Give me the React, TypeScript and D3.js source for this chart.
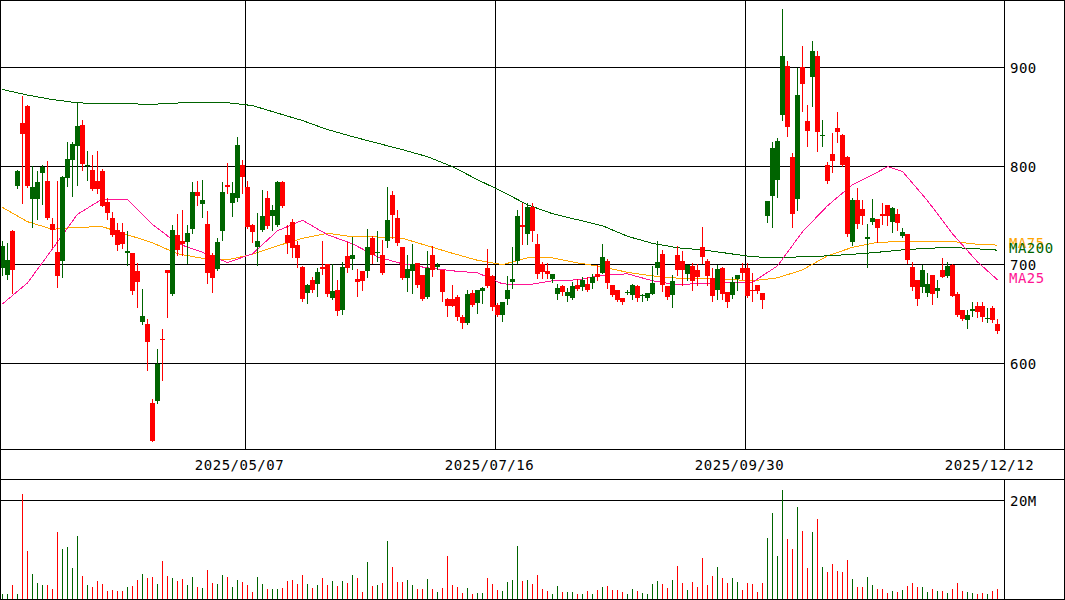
import React from 'react';
import * as d3 from 'd3';

const opens = [697,690,734,780,844,861,767,767,793,785,741,713,704,788,806,820,842,800,796,785,795,764,747,735,733,712,712,694,642,640,560,562,625,695,670,730,724,723,736,774,762,741,710,696,734,781,763,768,801,779,740,718,735,768,750,740,784,730,743,720,698,671,685,681,698,701,666,674,654,709,706,686,694,694,727,712,710,724,771,747,718,687,694,702,690,667,710,698,695,665,665,667,647,641,671,661,673,697,689,659,649,665,683,704,740,731,759,721,701,694,686,670,679,668,666,680,678,681,682,691,692,704,680,674,666,671,669,679,668,666,670,697,711,679,669,710,704,691,699,695,718,704,687,674,697,672,669,686,697,697,675,680,671,750,770,786,852,902,809,767,901,846,890,912,831,801,812,839,832,809,723,766,757,726,743,746,752,761,743,752,729,731,698,685,678,671,690,673,695,689,700,670,654,644,653,658,658,645,656,640];
const highs = [724,722,735,796,871,862,800,795,801,805,747,785,790,825,825,864,847,815,811,815,797,768,754,742,742,734,712,702,676,645,564,615,635,695,740,752,756,740,784,785,786,755,712,727,784,803,784,830,806,785,741,753,776,775,761,785,785,740,746,724,699,681,688,697,724,701,701,685,703,723,728,696,694,736,729,734,725,779,775,756,718,710,721,702,690,714,719,702,695,666,680,669,649,674,674,674,678,716,690,661,662,689,718,756,763,763,763,731,703,702,691,681,680,677,683,686,688,688,691,700,721,706,680,675,666,675,681,680,670,671,699,724,715,679,690,719,714,700,702,701,738,706,697,700,698,672,688,690,702,702,692,680,671,765,825,829,959,907,813,900,922,862,927,917,847,804,834,855,833,810,768,778,766,741,767,746,763,761,759,757,737,731,703,685,700,692,690,685,707,703,701,672,654,654,662,662,662,656,658,645];
const lows = [690,686,671,778,763,779,738,746,762,746,718,678,688,780,770,781,796,786,776,773,760,746,729,715,717,700,670,657,640,593,521,560,583,647,669,710,710,702,732,761,748,682,672,695,725,773,749,765,773,737,723,700,734,737,735,739,759,712,708,698,663,661,672,668,691,668,665,649,650,693,696,668,675,688,702,704,691,718,727,720,686,673,671,678,664,666,689,696,663,648,658,644,636,640,658,651,661,678,654,648,643,660,677,702,721,721,724,687,687,687,683,665,669,663,665,675,674,673,677,685,692,677,668,663,660,670,665,663,663,664,670,691,673,665,657,690,680,685,675,680,702,680,663,665,665,657,666,675,686,667,663,671,656,743,738,769,847,831,738,756,856,820,861,815,820,783,794,824,800,729,720,737,741,698,741,723,741,740,733,735,728,702,674,659,672,668,660,667,688,688,668,648,644,636,648,647,643,642,642,631];
const closes = [719,705,695,795,833,780,779,784,799,747,735,689,789,807,822,841,802,801,777,777,760,753,730,720,721,714,673,683,648,622,521,599,624,692,735,715,721,732,774,770,766,692,687,723,774,779,773,821,789,738,733,724,749,739,756,784,760,722,717,707,665,680,675,693,696,670,673,653,698,697,710,683,684,718,710,713,692,745,751,722,687,696,701,680,665,697,695,700,672,658,658,647,641,670,659,674,677,679,657,649,662,674,686,750,738,759,734,691,693,691,691,677,672,672,679,676,685,674,688,688,708,682,669,664,662,672,680,666,669,671,682,703,680,667,684,695,695,700,684,688,708,689,668,696,670,662,683,690,692,668,673,673,664,765,818,826,912,840,752,872,883,836,917,835,832,785,805,835,801,731,766,741,750,728,747,737,750,750,758,742,733,705,678,665,695,681,670,677,688,699,668,649,645,649,655,652,647,646,644,633];
const volumes = [1.14,1.14,2.94,1.14,21.3,9.77,5.15,3.34,2.94,2.94,2.14,13.6,10.2,10.6,6.35,12.8,4.75,2.94,2.54,3.75,3.14,1.74,1.94,1.74,1.74,2.54,2.74,3.95,5.15,4.35,4.55,3.14,7.76,4.75,4.35,3.75,4.15,2.94,4.55,2.54,2.34,5.95,3.34,3.14,4.95,4.55,2.54,3.95,3.55,2.94,1.54,4.55,3.14,2.14,2.14,2.14,2.34,3.75,3.95,3.14,4.95,3.14,2.34,2.94,4.35,2.94,3.75,2.74,3.75,3.34,4.95,4.35,1.54,7.56,2.74,2.94,3.34,11.8,6.56,3.55,3.55,3.95,2.94,2.14,2.14,4.15,2.14,1.54,2.34,8.76,2.94,2.54,1.34,2.34,1.14,1.34,1.34,4.35,3.14,1.94,1.74,3.55,3.95,10.8,3.75,3.95,3.14,4.95,2.14,1.74,1.14,2.74,1.54,1.54,1.54,1.14,1.14,1.74,1.14,1.94,2.54,2.74,1.94,1.94,1.54,1.14,2.14,1.74,1.34,1.14,3.14,3.75,3.14,2.34,3.95,6.76,3.34,1.94,3.55,2.54,8.36,2.94,4.75,6.56,4.35,3.34,4.35,3.55,1.94,3.34,3.14,1.54,3.34,12.4,17.4,8.76,22.2,12.2,10.2,18.6,13.8,6.35,13.6,16.2,6.56,5.55,7.16,5.75,5.55,7.96,4.15,2.54,2.54,4.55,2.94,2.14,2.14,1.34,1.74,1.54,1.94,2.74,3.34,2.54,2.54,1.54,2.14,1.74,1.74,1.34,2.14,3.34,1.74,1.54,1.34,1.14,1.34,1.14,1.74,2.14];

const maIdx = [0,5,10,15,20,25,30,35,40,45,50,55,60,65,70,75,80,85,90,95,100,105,110,115,120,125,130,135,140,145,150,155,160,165,170,175,180,185,190,195,199];
const ma200 = [877.7,872.1,867.5,864.2,863.4,863.2,862.7,864,864.8,864.3,861.4,853.8,846.2,837.1,829.9,823.3,816.7,809.6,799.5,786.3,774.1,760.9,751.8,745.7,739.6,728.9,721.8,717.3,715.2,711.7,708.1,707.4,708.1,709.1,710.7,712.7,715.2,716.8,717.6,716.2,714.9];
const ma75 = [758.2,743.7,736,738.1,738.6,730.5,722.3,711.2,706.6,705.1,710.7,719.3,726.9,732,728.4,728.2,726.9,719.3,711.7,704.6,700.2,707.1,707.1,702,698,692.4,688.8,686.5,686.5,685.3,683.8,686.8,694.9,709.1,717.8,722.8,723.6,723.3,723.6,720.8,720];
const ma25Idx = [0,5,10,15,20,25,30,35,40,45,50,55,60,65,70,75,80,85,90,95,100,105,110,115,120,125,130,135,140,145,150,155,160,165,170,175,177,180,185,190,195,199];
const ma25 = [660.4,681.7,716.2,751.3,766.7,766.5,741,721.6,712.7,702.3,711.2,734.5,745.2,730.5,721.3,708.1,701,697,693.9,691.9,680.7,679.7,683.8,684.8,689.3,690.9,683.8,679.7,681.4,681.7,682.2,699,733.5,759.9,781.2,793.9,799.5,794.6,765,731.5,703,684.8];

const priceTicks = [600, 700, 800, 900];
const volTicks = [20];
const volTickLabels = ['20M'];
const dateIdx = [49, 99, 149, 199];
const dateLabels = ['2025/05/07', '2025/07/16', '2025/09/30', '2025/12/12'];
const maNames = ['MA75', 'MA200', 'MA25'];

const RED = '#ff0000';
const GREEN = '#006400';
const C200 = '#006400';
const C75 = '#ffa500';
const C25 = '#ff1493';
const FONT = '"DejaVu Sans Mono", monospace';

export default function App() {
  const W = 1065, H = 600;
  const axisX = 1004;
  const yP = d3.scaleLinear().domain([600, 900]).range([363.5, 67.5]);
  const yV = d3.scaleLinear().domain([0, 20]).range([599.5, 500.5]);
  const xL = d3.scaleLinear().domain([0, 200]).range([0, 1000]);
  const xC = (i: number) => xL(i) + 2.5;
  const crisp = (y: number) => Math.round(y - 0.5) + 0.5;

  const mkLine = (idx: number[], vals: number[]) =>
    d3.line<number>().x((_, k) => xC(idx[k])).y((v) => yP(v))(vals) || '';

  const maDefs = [
    { name: maNames[0], idx: maIdx, vals: ma75, color: C75 },
    { name: maNames[1], idx: maIdx, vals: ma200, color: C200 },
    { name: maNames[2], idx: ma25Idx, vals: ma25, color: C25 },
  ];

  return (
    <svg width={W} height={H} style={{ position: 'absolute', left: 0, top: 0, background: '#fff' }}>
      <rect x={0} y={0} width={W} height={H} fill="#fff" />
      <g shapeRendering="crispEdges" stroke="#000" strokeWidth={1}>
        {priceTicks.map((t) => (
          <line key={'pg' + t} x1={0} x2={axisX} y1={crisp(yP(t))} y2={crisp(yP(t))} />
        ))}
        {dateIdx.slice(0, 3).map((d) => (
          <line key={'dg' + d} x1={xL(d) + 0.5} x2={xL(d) + 0.5} y1={0} y2={449} />
        ))}
        {volTicks.map((t) => (
          <line key={'vg' + t} x1={0} x2={axisX} y1={crisp(yV(t))} y2={crisp(yV(t))} />
        ))}
      </g>
      <g fill="none" strokeWidth={1} shapeRendering="crispEdges">
        {maDefs.map((m) => (
          <path key={m.name} d={mkLine(m.idx, m.vals)} stroke={m.color} />
        ))}
      </g>
      <g shapeRendering="crispEdges">
        {opens.map((o, i) => {
          const c = closes[i];
          const up = c >= o;
          const col = up ? GREEN : RED;
          const hy = Math.round(yP(highs[i]));
          const ly = Math.round(yP(lows[i]));
          const ty = Math.round(yP(Math.max(o, c)));
          const by = Math.round(yP(Math.min(o, c)));
          return (
            <g key={'c' + i} fill={col}>
              <rect x={xL(i) + 2} width={1} y={hy} height={Math.max(1, ly - hy + 1)} />
              <rect x={xL(i)} width={5} y={ty} height={Math.max(1, by - ty)} />
            </g>
          );
        })}
        {volumes.map((v, i) => {
          const up = closes[i] >= opens[i];
          const top = Math.round(yV(v));
          return (
            <rect key={'v' + i} x={xL(i) + 2} width={1} y={top} height={599 - top} fill={up ? GREEN : RED} />
          );
        })}
      </g>
      <g shapeRendering="crispEdges" stroke="#000" strokeWidth={1} fill="none">
        <rect x={0.5} y={0.5} width={W - 1} height={H - 1} />
        <line x1={0} x2={W} y1={449.5} y2={449.5} />
        <line x1={0} x2={W} y1={479.5} y2={479.5} />
        <line x1={axisX + 0.5} x2={axisX + 0.5} y1={0} y2={449.5} />
        <line x1={axisX + 0.5} x2={axisX + 0.5} y1={479.5} y2={H} />
      </g>
      <g fontFamily={FONT} fontSize={14} letterSpacing={0.5}>
        {priceTicks.map((t) => (
          <text key={'pt' + t} x={1010} y={crisp(yP(t)) + 5} fill="#000">{t}</text>
        ))}
        {volTicks.map((t, k) => (
          <text key={'vt' + t} x={1010} y={crisp(yV(t)) + 5} fill="#000">{volTickLabels[k]}</text>
        ))}
        {dateIdx.map((d, k) => (
          <text key={'dt' + d} x={xL(d) - 5.5} y={470} textAnchor="middle" fill="#000">{dateLabels[k]}</text>
        ))}
        {maDefs.map((m) => (
          <text key={'ml' + m.name} x={1009} y={yP(m.vals[m.vals.length - 1]) + 3} fill={m.color}>{m.name}</text>
        ))}
      </g>
    </svg>
  );
}
